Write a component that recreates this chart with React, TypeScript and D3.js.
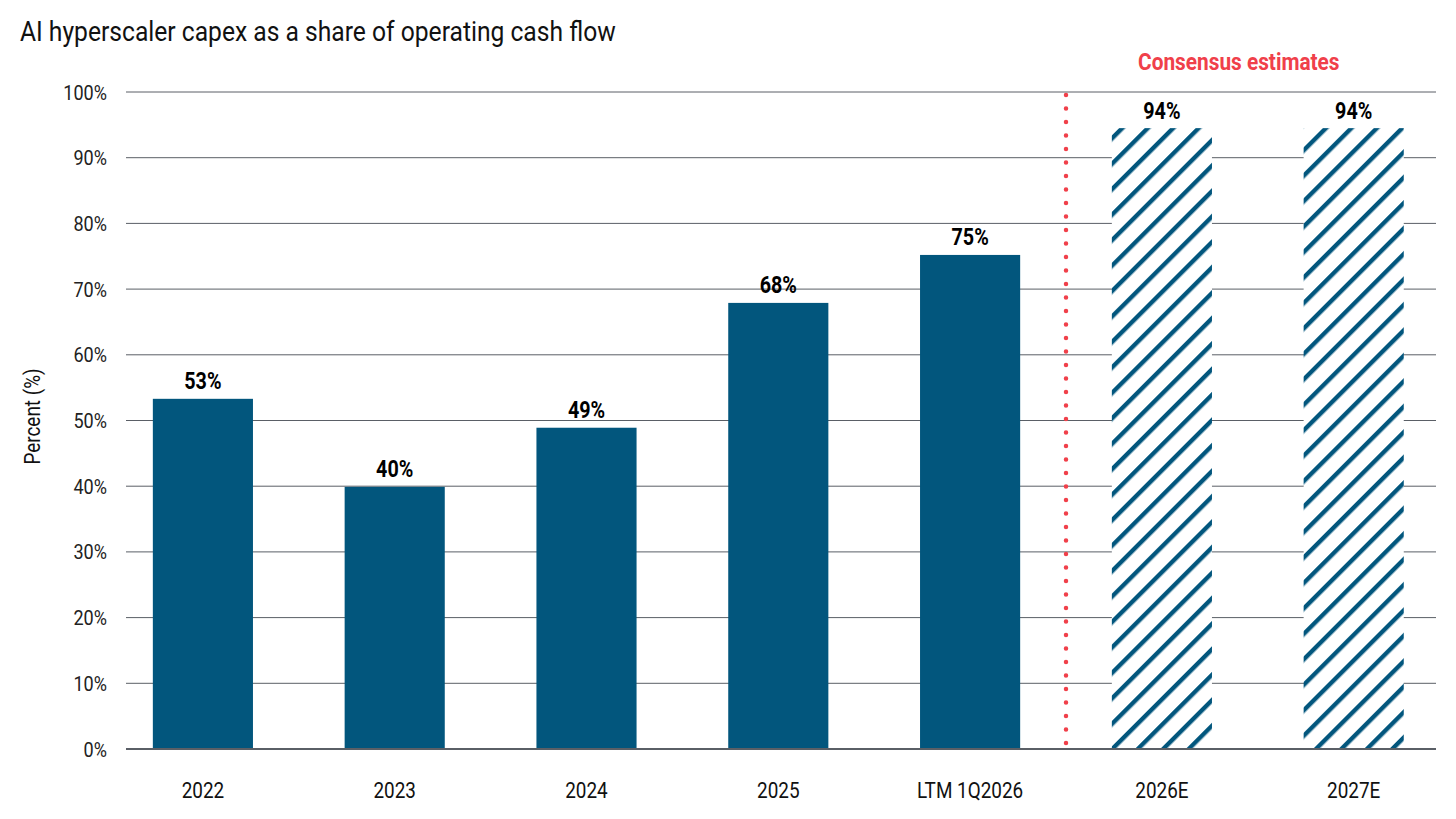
import React from "react";
import * as d3 from "d3";

// chart values
const categories = ["2022", "2023", "2024", "2025", "LTM 1Q2026", "2026E", "2027E"];
const values = [53.3, 39.9, 48.9, 67.9, 75.2, 94.5, 94.5];
const valueLabels = ["53%", "40%", "49%", "68%", "75%", "94%", "94%"];
const estimated = [false, false, false, false, false, true, true];
const yTicks = [0, 10, 20, 30, 40, 50, 60, 70, 80, 90, 100];

const W = 1456;
const H = 819;
const FONT = "Roboto, 'Noto Sans', sans-serif";
const BLUE = "#02567d";
const RED = "#f0404a";
const SQUEEZE = 0.86; // fake a condensed face

// text squeezed horizontally around its anchor point
function CText({ x, y, sx = SQUEEZE, children, ...rest }: any) {
  return (
    <g transform={`translate(${x},${y}) scale(${sx},1)`}>
      <text x={0} y={0} {...rest}>{children}</text>
    </g>
  );
}

export default function App() {
  const gridLeft = 126;
  const gridRight = 1436;

  const x = d3.scaleBand<string>()
    .domain(categories)
    .range([107, 1449.6])
    .paddingInner(0.478)
    .paddingOuter(0.239);

  const y = d3.scaleLinear().domain([0, 100]).range([749, 92]);
  const cx = (c: string) => (x(c) ?? 0) + x.bandwidth() / 2;

  // divider between actuals and estimates
  const firstEst = estimated.indexOf(true);
  const dividerX = (cx(categories[firstEst - 1]) + cx(categories[firstEst])) / 2;

  return (
    <svg width={W} height={H} style={{ display: "block", margin: "-8px" }} fontFamily={FONT}>
      <defs>
        <pattern id="hatch" patternUnits="userSpaceOnUse" width="18" height="18"
          patternTransform="rotate(45)">
          <rect width="18" height="18" fill="white" />
          <rect x="0" y="0" width="4.4" height="18" fill={BLUE} />
        </pattern>
      </defs>
      <rect width={W} height={H} fill="white" />

      <CText x={20} y={41} sx={0.88} fontSize={28} fill="#111">
        AI hyperscaler capex as a share of operating cash flow
      </CText>

      {/* gridlines + y ticks */}
      {yTicks.map((t) => (
        <g key={t}>
          <line x1={gridLeft} x2={gridRight} y1={y(t)} y2={y(t)}
            stroke="#5a5f66" strokeWidth={t === 0 ? 2.2 : 1} />
          <CText x={107} y={y(t) + 7.5} textAnchor="end" fontSize={21} fill="#222">
            {t}%
          </CText>
        </g>
      ))}

      <g transform={`translate(40,${y(50) - 4}) rotate(-90) scale(${SQUEEZE},1)`}>
        <text textAnchor="middle" fontSize={22} fill="#111">Percent (%)</text>
      </g>

      {/* bars */}
      {categories.map((c, i) => (
        <rect key={c} x={x(c)} y={y(values[i])} width={x.bandwidth()}
          height={y(0) - y(values[i]) - 1}
          fill={estimated[i] ? "url(#hatch)" : BLUE} />
      ))}

      {/* value labels */}
      {categories.map((c, i) => (
        <CText key={c} x={cx(c)} y={y(values[i]) - 9.5} sx={0.84}
          textAnchor="middle" fontSize={23.5} fontWeight="bold" fill="#000">
          {valueLabels[i]}
        </CText>
      ))}

      {/* x labels */}
      {categories.map((c) => (
        <CText key={c} x={cx(c)} y={798}
          textAnchor="middle" fontSize={22} fill="#111">
          {c}
        </CText>
      ))}

      {/* estimates divider */}
      <line x1={dividerX} x2={dividerX} y1={y(100) + 3} y2={y(0) - 2}
        stroke={RED} strokeWidth={4.5} strokeLinecap="round" strokeDasharray="0 13.5" />
      <CText x={(cx("2026E") + cx("2027E")) / 2 - 19} y={70} sx={0.85}
        textAnchor="middle" fontSize={24.5} fontWeight="bold" fill={RED}>
        Consensus estimates
      </CText>
    </svg>
  );
}
